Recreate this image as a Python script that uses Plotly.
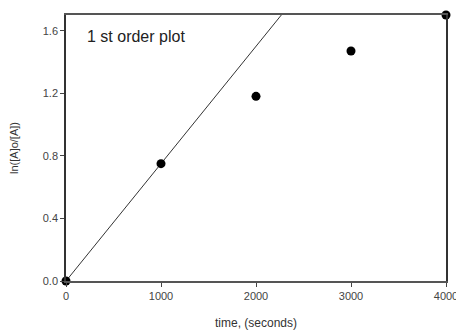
import plotly.graph_objects as go

time_s = [0, 1000, 2000, 3000, 4000]
ln_ratio = [0.0, 0.75, 1.18, 1.47, 1.70]
fit_x = [0, 4000]
fit_y = [0.0, 3.0]
x_ticks = [0, 1000, 2000, 3000, 4000]
y_ticks = [0.0, 0.4, 0.8, 1.2, 1.6]
y_tick_labels = ["0.0", "0.4", "0.8", "1.2", "1.6"]

fig = go.Figure()
fig.add_trace(go.Scatter(x=fit_x, y=fit_y, mode="lines",
                         line=dict(color="#333333", width=1), showlegend=False))
fig.add_trace(go.Scatter(x=time_s, y=ln_ratio, mode="markers",
                         marker=dict(color="black", size=9, symbol="circle"),
                         cliponaxis=False, showlegend=False))

fig.add_annotation(x=0.05, y=0.96, xref="paper", yref="paper", xanchor="left", yanchor="top",
                   text="1 st order plot", showarrow=False,
                   font=dict(family="Arial, Liberation Sans", size=16, color="#222222"))

tick_font = dict(family="Arial, Liberation Sans", size=11, color="#444444")

fig.update_layout(
    width=456, height=328,
    margin=dict(l=58, r=18, t=7, b=55),
    plot_bgcolor="white", paper_bgcolor="white",
    font=dict(family="Arial, Liberation Sans", size=11, color="#444444"),
    xaxis=dict(range=[0, 4000], tickvals=x_ticks, ticks="outside", ticklen=4,
               tickcolor="#444444", tickfont=tick_font, showline=True, linecolor="#555555",
               linewidth=1.5, mirror=True, showgrid=False, zeroline=False, automargin=False,
               title=dict(text="time, (seconds)", font=dict(size=12, color="#333333"), standoff=18)),
    yaxis=dict(range=[0, 1.70], tickvals=y_ticks, ticktext=y_tick_labels, ticks="outside",
               ticklen=4, tickcolor="#444444", tickfont=tick_font, showline=True,
               linecolor="#333333", linewidth=1.5, mirror=True, showgrid=False, zeroline=False,
               automargin=False,
               title=dict(text="ln([A]o/[A])", font=dict(size=11, color="#333333"), standoff=22)),
)

fig.write_html("out.html")
